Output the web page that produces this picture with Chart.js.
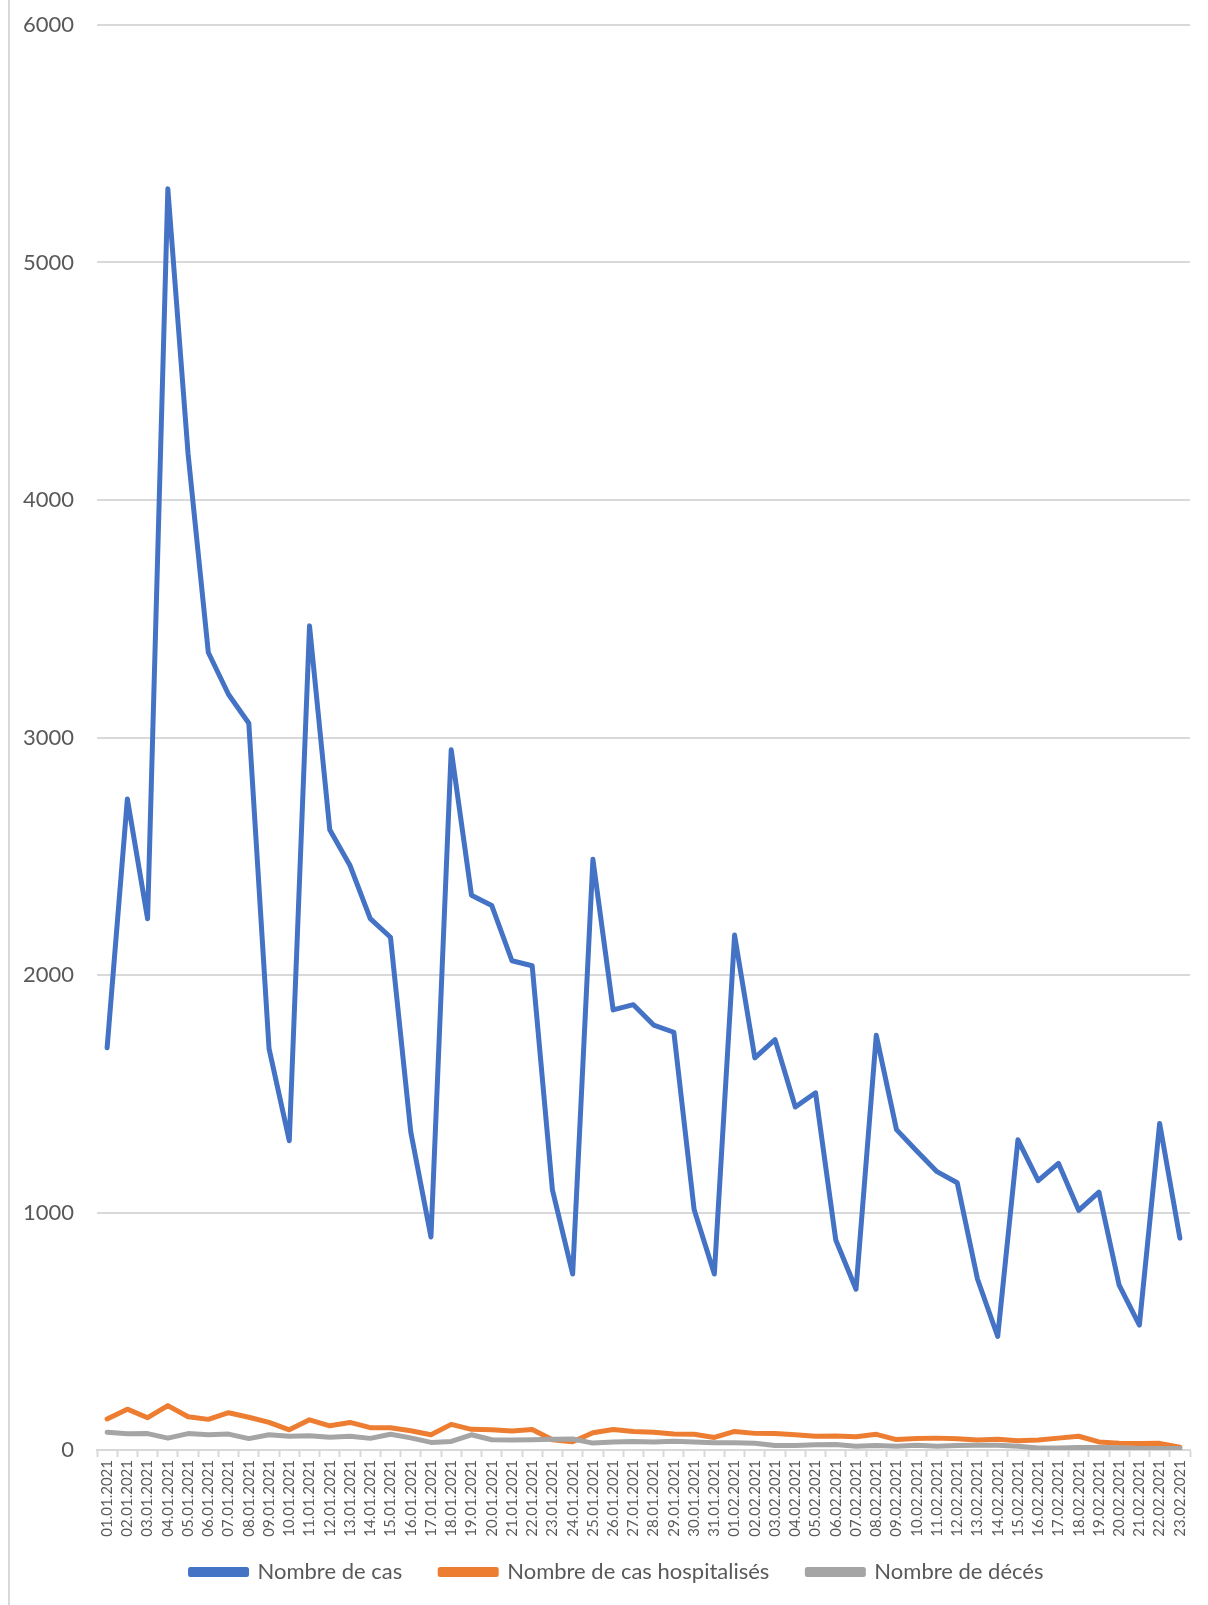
<!DOCTYPE html>
<html>
<head>
<meta charset="utf-8">
<title>Cas, hospitalisations et décès</title>
<script src="https://cdn.jsdelivr.net/npm/chart.js@4.4.1/dist/chart.umd.min.js"></script>
<style>
  html, body { margin: 0; padding: 0; background: #fff; }
  #wrap { position: relative; width: 1208px; height: 1605px; }
  #frame { position: absolute; left: 8px; top: 0; width: 2px; height: 1605px; background: #d9d9d9; }
  #chart { position: absolute; left: 0; top: 0; }
</style>
</head>
<body>
<div id="wrap">
  <div id="frame"></div>
  <canvas id="chart" width="1208" height="1605"></canvas>
</div>
<script>
// dates (01.01.2021 .. 23.02.2021)
const days = [
  '01.01.2021', '02.01.2021', '03.01.2021', '04.01.2021', '05.01.2021', '06.01.2021',
  '07.01.2021', '08.01.2021', '09.01.2021', '10.01.2021', '11.01.2021', '12.01.2021',
  '13.01.2021', '14.01.2021', '15.01.2021', '16.01.2021', '17.01.2021', '18.01.2021',
  '19.01.2021', '20.01.2021', '21.01.2021', '22.01.2021', '23.01.2021', '24.01.2021',
  '25.01.2021', '26.01.2021', '27.01.2021', '28.01.2021', '29.01.2021', '30.01.2021',
  '31.01.2021', '01.02.2021', '02.02.2021', '03.02.2021', '04.02.2021', '05.02.2021',
  '06.02.2021', '07.02.2021', '08.02.2021', '09.02.2021', '10.02.2021', '11.02.2021',
  '12.02.2021', '13.02.2021', '14.02.2021', '15.02.2021', '16.02.2021', '17.02.2021',
  '18.02.2021', '19.02.2021', '20.02.2021', '21.02.2021', '22.02.2021', '23.02.2021'
];

// Nombre de cas
const cases = [
  1694, 2741, 2237, 5310, 4194, 3358, 3181, 3060, 1690, 1302,
  3470, 2612, 2461, 2237, 2159, 1340, 897, 2948, 2336, 2293,
  2060, 2039, 1095, 741, 2487, 1853, 1875, 1789, 1759, 1013,
  741, 2168, 1651, 1728, 1444, 1504, 884, 677, 1746, 1349,
  1259, 1172, 1125, 720, 478, 1306, 1134, 1207, 1009, 1086,
  694, 526, 1375, 892
];

// Nombre de cas hospitalisés
const hospital = [
  131, 172, 136, 187, 140, 129, 157, 138, 116, 85,
  127, 102, 116, 94, 94, 81, 64, 108, 87, 85,
  80, 86, 43, 35, 73, 86, 78, 75, 67, 66,
  53, 78, 70, 69, 64, 58, 59, 56, 66, 44,
  48, 50, 47, 42, 45, 39, 42, 50, 58, 34,
  28, 27, 28, 12
];

// Nombre de décés
const deaths = [
  75, 68, 69, 50, 69, 64, 67, 48, 64, 58,
  60, 54, 58, 49, 66, 51, 32, 36, 64, 43,
  42, 43, 45, 46, 29, 34, 36, 34, 37, 34,
  31, 31, 28, 19, 19, 22, 23, 16, 19, 16,
  20, 16, 19, 20, 20, 16, 8, 8, 11, 11,
  9, 6, 6, 6
];

const yTicks = [0, 1000, 2000, 3000, 4000, 5000, 6000];

const textColor = '#595959';
const gridColor = '#d9d9d9';
const fontName = 'Lato, "Open Sans", sans-serif';

function series(label, data, color, order) {
  return {
    label: label,
    data: data,
    borderColor: color,
    backgroundColor: color,
    borderWidth: 5,
    pointRadius: 0,
    pointHoverRadius: 0,
    tension: 0,
    borderJoinStyle: 'round',
    borderCapStyle: 'round',
    order: order // later series drawn on top, like the original
  };
}

// let the rotated date labels run down past the axis box, and nudge the legend right
const layoutTweak = {
  id: 'layoutTweak',
  afterLayout(chart) {
    chart.scales.x.bottom = chart.height;
    chart.legend.left += 22;
  }
};

const ctx = document.getElementById('chart').getContext('2d');
const chart = new Chart(ctx, {
  type: 'line',
  data: {
    labels: days,
    datasets: [
      series('Nombre de cas', cases, '#4472c4', 2),
      series('Nombre de cas hospitalisés', hospital, '#ed7d31', 1),
      series('Nombre de décés', deaths, '#a5a5a5', 0)
    ]
  },
  plugins: [layoutTweak],
  options: {
    responsive: false,
    animation: false,
    devicePixelRatio: 1,
    layout: { padding: { top: 25, right: 18, bottom: 12, left: 22 } },
    plugins: {
      tooltip: { enabled: false },
      legend: {
        position: 'bottom',
        labels: {
          boxWidth: 56,
          boxHeight: 5,
          padding: 38,
          color: textColor,
          font: { family: fontName, size: 22 },
          sort: (a, b) => a.datasetIndex - b.datasetIndex
        }
      }
    },
    scales: {
      x: {
        offset: true,
        grid: {
          display: true,
          offset: true,
          drawOnChartArea: false,
          drawTicks: true,
          tickLength: 7,
          tickColor: gridColor,
          tickWidth: 2
        },
        border: { display: true, color: gridColor, width: 2 },
        ticks: {
          autoSkip: false,
          minRotation: 90,
          maxRotation: 90,
          padding: 3,
          color: textColor,
          font: { family: fontName, size: 15 }
        },
        afterFit: function (scale) { scale.height = 73; }
      },
      y: {
        min: 0,
        max: 6000,
        afterBuildTicks: function (scale) {
          scale.ticks = yTicks.map(v => ({ value: v }));
        },
        grid: { color: gridColor, lineWidth: 2, drawTicks: false },
        border: { display: false },
        ticks: {
          padding: 23,
          color: textColor,
          font: { family: fontName, size: 22 },
          callback: v => String(v)
        },
        afterFit: function (scale) {
          scale.width = 75;
          scale.paddingTop = 0;
          scale.paddingBottom = 0;
        }
      }
    }
  }
});
</script>
</body>
</html>
